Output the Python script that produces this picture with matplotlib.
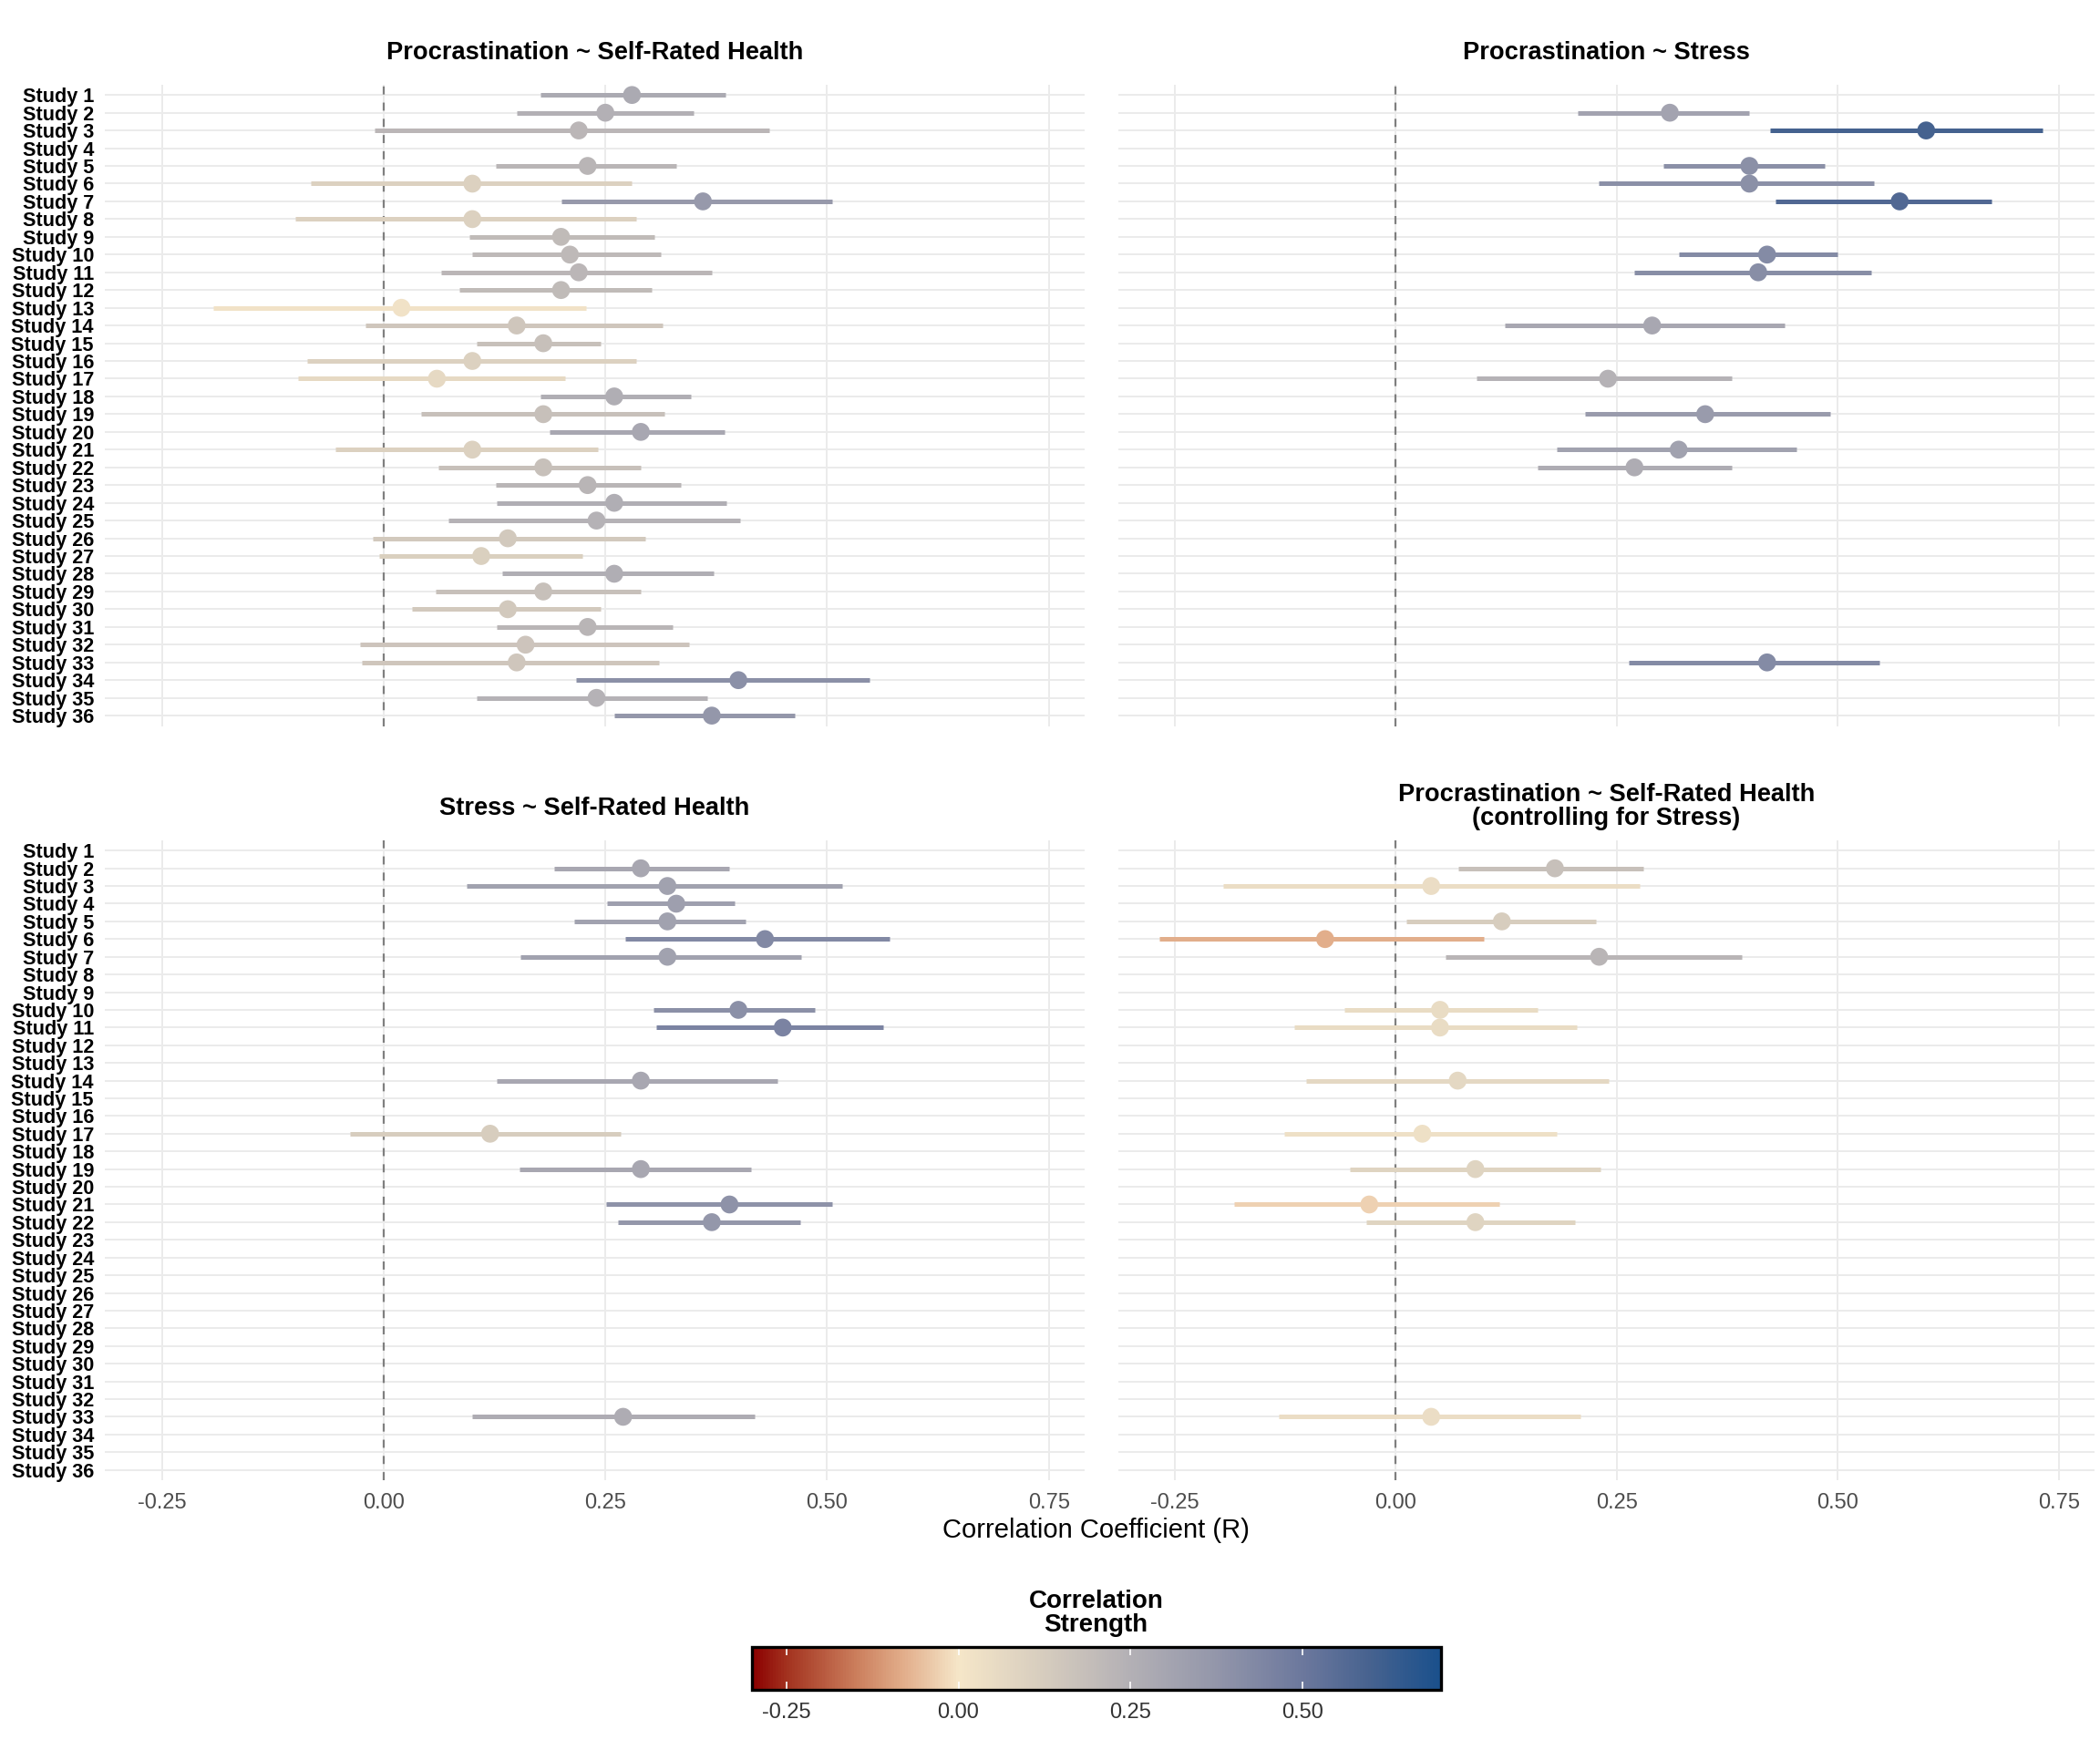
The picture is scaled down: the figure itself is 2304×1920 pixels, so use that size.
import numpy as np
import matplotlib
matplotlib.use("Agg")
import matplotlib.pyplot as plt
from matplotlib.colors import LinearSegmentedColormap, Normalize
from matplotlib.cm import ScalarMappable

plt.rcParams['font.family'] = ['Liberation Sans', 'DejaVu Sans']

# --- data ---
study_labels = ["Study %d" % i for i in range(1, 37)]

# Procrastination ~ Self-Rated Health
p1_study = [1, 2, 3, 5, 6, 7, 8, 9, 10, 11, 12, 13, 14, 15, 16, 17, 18, 19, 20,
            21, 22, 23, 24, 25, 26, 27, 28, 29, 30, 31, 32, 33, 34, 35, 36]
p1_r = [0.28, 0.25, 0.22, 0.23, 0.10, 0.36, 0.10, 0.20, 0.21, 0.22, 0.20, 0.02,
        0.15, 0.18, 0.10, 0.06, 0.26, 0.18, 0.29, 0.10, 0.18, 0.23, 0.26, 0.24,
        0.14, 0.11, 0.26, 0.18, 0.14, 0.23, 0.16, 0.15, 0.40, 0.24, 0.37]
p1_lo = [0.177, 0.150, -0.010, 0.127, -0.082, 0.200, -0.100, 0.097, 0.100, 0.065,
         0.085, -0.192, -0.020, 0.105, -0.086, -0.097, 0.177, 0.042, 0.187, -0.054,
         0.062, 0.127, 0.128, 0.073, -0.012, -0.005, 0.134, 0.059, 0.032, 0.128,
         -0.027, -0.025, 0.217, 0.105, 0.260]
p1_hi = [0.385, 0.350, 0.435, 0.330, 0.280, 0.506, 0.285, 0.305, 0.313, 0.370,
         0.302, 0.228, 0.315, 0.245, 0.285, 0.205, 0.346, 0.317, 0.384, 0.242,
         0.290, 0.335, 0.387, 0.402, 0.295, 0.224, 0.372, 0.290, 0.245, 0.326,
         0.344, 0.310, 0.548, 0.365, 0.464]

# Procrastination ~ Stress
p2_study = [2, 3, 5, 6, 7, 10, 11, 14, 17, 19, 21, 22, 33]
p2_r = [0.31, 0.60, 0.40, 0.40, 0.57, 0.42, 0.41, 0.29, 0.24, 0.35, 0.32, 0.27, 0.42]
p2_lo = [0.206, 0.423, 0.303, 0.230, 0.430, 0.320, 0.270, 0.123, 0.091, 0.214,
         0.182, 0.160, 0.264]
p2_hi = [0.400, 0.732, 0.485, 0.541, 0.674, 0.500, 0.538, 0.440, 0.380, 0.491,
         0.453, 0.380, 0.547]

# Stress ~ Self-Rated Health
p3_study = [2, 3, 4, 5, 6, 7, 10, 11, 14, 17, 19, 21, 22, 33]
p3_r = [0.29, 0.32, 0.33, 0.32, 0.43, 0.32, 0.40, 0.45, 0.29, 0.12, 0.29, 0.39,
        0.37, 0.27]
p3_lo = [0.192, 0.094, 0.252, 0.215, 0.272, 0.154, 0.304, 0.307, 0.128, -0.038,
         0.153, 0.251, 0.264, 0.100]
p3_hi = [0.390, 0.517, 0.396, 0.408, 0.570, 0.471, 0.486, 0.563, 0.444, 0.267,
         0.414, 0.506, 0.470, 0.418]

# Procrastination ~ Self-Rated Health (controlling for Stress)
p4_study = [2, 3, 5, 6, 7, 10, 11, 14, 17, 19, 21, 22, 33]
p4_r = [0.18, 0.04, 0.12, -0.08, 0.23, 0.05, 0.05, 0.07, 0.03, 0.09, -0.03, 0.09, 0.04]
p4_lo = [0.071, -0.195, 0.012, -0.267, 0.056, -0.058, -0.115, -0.101, -0.126,
         -0.052, -0.183, -0.033, -0.132]
p4_hi = [0.280, 0.276, 0.226, 0.100, 0.391, 0.160, 0.205, 0.241, 0.182, 0.232,
         0.117, 0.203, 0.209]

titles = ["Procrastination ~ Self-Rated Health",
          "Procrastination ~ Stress",
          "Stress ~ Self-Rated Health",
          "Procrastination ~ Self-Rated Health\n(controlling for Stress)"]

x_ticks = [-0.25, 0.0, 0.25, 0.5, 0.75]
cbar_ticks = [-0.25, 0.0, 0.25, 0.5]

# colour scale: dark red -> cream (0) -> dark blue
c_lim = (-0.3, 0.7)
c_nodes = [-0.30, -0.25, -0.15, -0.08, 0.0, 0.125, 0.25, 0.375, 0.50, 0.60, 0.70]
c_cols = ["#8B0000", "#A3321F", "#CB7E5C", "#E2AE8B", "#F5E6C8", "#D6CCBE",
          "#B3B0B5", "#9396AA", "#6C789D", "#46628F", "#1A508C"]
pos = [(v - c_lim[0]) / (c_lim[1] - c_lim[0]) for v in c_nodes]
cmap = LinearSegmentedColormap.from_list("corr", list(zip(pos, c_cols)))
norm = Normalize(*c_lim)

fig = plt.figure(figsize=(11.52, 9.6), dpi=200)

boxes = [(0.0501, 0.585, 0.4662, 0.3668),
         (0.5325, 0.585, 0.4647, 0.3668),
         (0.0501, 0.154, 0.4662, 0.366),
         (0.5325, 0.154, 0.4647, 0.366)]
panels = [(p1_study, p1_r, p1_lo, p1_hi),
          (p2_study, p2_r, p2_lo, p2_hi),
          (p3_study, p3_r, p3_lo, p3_hi),
          (p4_study, p4_r, p4_lo, p4_hi)]

for i, (box, (st, r, lo, hi)) in enumerate(zip(boxes, panels)):
    ax = fig.add_axes(box)
    st = np.array(st)
    r = np.array(r)
    cols = cmap(norm(r))
    ax.axvline(0, color="#7F7F7F", lw=0.8, ls=(0, (4, 4)), zorder=1)
    ax.hlines(st, lo, hi, colors=cols, lw=1.8, zorder=2)
    ax.scatter(r, st, c=r, cmap=cmap, norm=norm, s=50, zorder=3, linewidths=0)
    ax.set_xlim(-0.314, 0.79)
    ax.set_ylim(36.6, 0.4)
    ax.set_yticks(range(1, 37))
    ax.set_xticks(x_ticks)
    ax.grid(True, color="#EBEBEB", lw=0.7)
    ax.set_axisbelow(True)
    for s in ax.spines.values():
        s.set_visible(False)
    ax.tick_params(length=0)
    if i % 2 == 0:
        ax.set_yticklabels(study_labels, fontsize=7.8, fontweight="bold", color="black")
        ax.tick_params(axis="y", pad=4.5)
    else:
        ax.set_yticklabels([])
    if i >= 2:
        ax.set_xticklabels(["-0.25", "0.00", "0.25", "0.50", "0.75"],
                           fontsize=8.5, color="#4D4D4D")
        ax.tick_params(axis="x", pad=5)
    else:
        ax.set_xticklabels([])
    pad = 6 if i == 3 else 10
    ax.set_title(titles[i], fontsize=9.8, fontweight="bold", pad=pad, linespacing=1.0)

fig.text(0.5217, 0.1256, "Correlation Coefficient (R)", ha="center", va="center",
         fontsize=10.5, color="black")

cax = fig.add_axes((0.358, 0.0345, 0.328, 0.0245))
cb = fig.colorbar(ScalarMappable(norm=norm, cmap=cmap), cax=cax,
                  orientation="horizontal", ticks=cbar_ticks)
cb.outline.set_linewidth(1.2)
cb.outline.set_edgecolor("black")
cax.set_xticklabels(["-0.25", "0.00", "0.25", "0.50"])
cax.tick_params(axis="x", direction="in", length=3.2, width=0.6, color="white",
                labelcolor="#333333", labelsize=8.5, pad=5, top=True)
cax.set_title("Correlation\nStrength", fontsize=10, fontweight="bold", pad=6,
              linespacing=1.0)

fig.savefig("out.png", dpi=200)
